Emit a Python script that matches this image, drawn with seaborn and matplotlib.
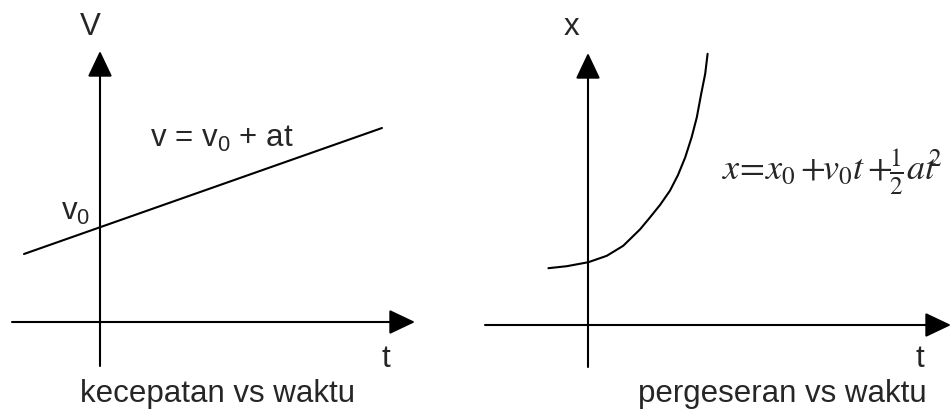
"""
Sketsa grafik GLBB: kecepatan vs waktu dan pergeseran vs waktu.
"""

import matplotlib
matplotlib.use("Agg")

import matplotlib.pyplot as plt
import pandas as pd
import seaborn as sns

# === data (satuan bebas, titik asal di perpotongan sumbu) ===
t_lurus = [-1.9, 7.05]
v_lurus = [1.7, 4.85]

t_kurva = [-0.99, -0.53, 0.01, 0.47, 0.88, 1.30, 1.55, 1.80, 2.05, 2.25,
           2.43, 2.59, 2.72, 2.83, 2.93, 2.99]
x_kurva = [1.42, 1.47, 1.57, 1.73, 1.98, 2.39, 2.69, 3.00, 3.36, 3.75,
           4.19, 4.69, 5.19, 5.78, 6.28, 6.78]

label_kiri = {"sumbu_y": "V", "sumbu_x": "t", "judul": "kecepatan vs waktu",
              "rumus": "v = v$_0$ + at", "titik": "v$_0$"}
label_kanan = {"sumbu_y": "x", "sumbu_x": "t", "judul": "pergeseran vs waktu",
               "rumus": r"$x\!=\!x_0+\!\!v_0t+\!\!\frac{1}{2}at^{\!\!\!2}$"}

FS = 22.5
LW = 1.5


def panah(ax, mulai, ujung):
    ax.annotate("", xy=ujung, xytext=mulai,
                arrowprops=dict(arrowstyle="-|>,head_length=0.8,head_width=0.38",
                                mutation_scale=20, lw=LW, color="black",
                                shrinkA=0, shrinkB=0))


def main() -> None:
    sns.set_style("white")
    plt.rcParams["font.family"] = ["Liberation Sans", "DejaVu Sans"]
    plt.rcParams["mathtext.fontset"] = "custom"
    plt.rcParams["mathtext.rm"] = "Liberation Sans"
    plt.rcParams["mathtext.it"] = "Liberation Sans"

    fig = plt.figure(figsize=(9.52, 4.10), dpi=100)
    ax1 = fig.add_axes([0, 0, 0.5, 1])
    ax2 = fig.add_axes([0.5, 0, 0.5, 1])

    # --- panel kiri: v-t ---
    df1 = pd.DataFrame({"t": t_lurus, "v": v_lurus})
    sns.lineplot(data=df1, x="t", y="v", ax=ax1, color="black", lw=LW)
    ax1.set_xlim(-2.5, 9.4)
    ax1.set_ylim(-2.175, 8.075)
    panah(ax1, (-2.2, 0), (7.875, 0))
    panah(ax1, (0, -1.1), (0, 6.775))
    ax1.text(-0.25, 7.2, label_kiri["sumbu_y"], fontsize=FS, ha="center", va="baseline")
    ax1.text(1.25, 4.41, label_kiri["rumus"], fontsize=FS, ha="left", va="baseline")
    ax1.text(-0.975, 2.575, label_kiri["titik"], fontsize=FS, ha="left", va="baseline")
    ax1.text(7.05, -1.1, label_kiri["sumbu_x"], fontsize=FS, ha="left", va="baseline")
    ax1.text(2.95, -1.975, label_kiri["judul"], fontsize=FS, ha="center", va="baseline")

    # --- panel kanan: x-t ---
    df2 = pd.DataFrame({"t": t_kurva, "x": x_kurva})
    sns.lineplot(data=df2, x="t", y="x", ax=ax2, color="black", lw=LW, sort=False)
    ax2.set_xlim(-2.8, 9.1)
    ax2.set_ylim(-2.1, 8.15)
    panah(ax2, (-2.575, 0), (9.075, 0))
    panah(ax2, (0, -1.05), (0, 6.8))
    ax2.text(-0.425, 7.275, label_kanan["sumbu_y"], fontsize=FS, ha="center", va="baseline")
    ax2.text(3.35, 3.65, label_kanan["rumus"], fontsize=26, ha="left", va="baseline",
             math_fontfamily="stix")
    ax2.text(8.175, -1.025, label_kanan["sumbu_x"], fontsize=FS, ha="left", va="baseline")
    ax2.text(4.85, -1.9, label_kanan["judul"], fontsize=FS, ha="center", va="baseline")

    for ax in (ax1, ax2):
        ax.set_axis_off()

    fig.savefig("out.png", dpi=100)


if __name__ == "__main__":
    main()
